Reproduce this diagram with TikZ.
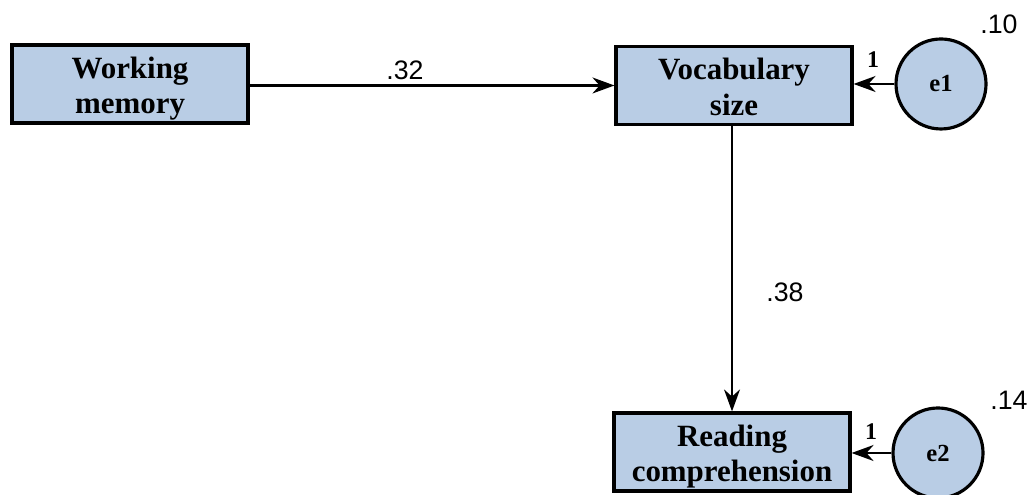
\documentclass[tikz,border=0pt]{standalone}
\usepackage{fontspec}
\usetikzlibrary{arrows.meta}
\setmainfont{Liberation Serif}
\newfontfamily\lblfont{Liberation Sans}
\newcommand{\semTop}{\rule{0pt}{8.8pt}}
\newcommand{\semBot}{\rule[-2pt]{0pt}{2pt}}
\begin{document}
\begin{tikzpicture}[x=1cm,y=1cm,
    semVar/.style={draw,line width=0.9pt,fill=semFill,minimum width=2.36cm,minimum height=0.78cm,inner sep=0pt,align=center,font=\fontsize{8.8}{10.1}\selectfont\bfseries},
    semErr/.style={draw,line width=0.9pt,fill=semFill,circle,minimum size=0.9cm,inner sep=0pt,font=\fontsize{7}{8}\selectfont\bfseries},
    semPath/.style={-{Stealth[length=2.2mm,width=1.6mm]},line width=0.6pt},
    semCoef/.style={font=\lblfont\fontsize{7.6}{8}\selectfont},
    semOne/.style={font=\fontsize{6.8}{8}\selectfont\bfseries},
]
\definecolor{semFill}{RGB}{185,205,229}
\useasboundingbox (0,0) rectangle (10.31,-4.95);
% Observed variables
\node[semVar] (WM) at (1.30,-0.84) {\semTop Working\\memory\semBot};
\node[semVar] (VS) at (7.34,-0.855) {\semTop Vocabulary\\size\semBot};
\node[semVar] (RC) at (7.32,-4.52) {\semTop Reading\\comprehension\semBot};
% Error terms
\node[semErr] (E1) at (9.41,-0.84) {e1};
\node[semErr] (E2) at (9.38,-4.53) {e2};
% Paths
\draw[semPath] (WM.east) -- (VS.west -| WM.east) -- (VS.west);
\draw[semPath] (VS.south -| RC.north) -- (RC.north);
\draw[semPath] (E1.west) -- (E1.west -| VS.east);
\draw[semPath] (E2.west) -- (E2.west -| RC.east);
% Coefficients
\node[semCoef] (C1) at (4.05,-0.70) {.32};
\node[semCoef] (C2) at (7.85,-2.92) {.38};
\node[semCoef] (R1) at (9.99,-0.24) {.10};
\node[semCoef] (R2) at (10.09,-4.00) {.14};
\node[semOne] (O1) at (8.73,-0.60) {1};
\node[semOne] (O2) at (8.71,-4.32) {1};
\end{tikzpicture}
\end{document}
